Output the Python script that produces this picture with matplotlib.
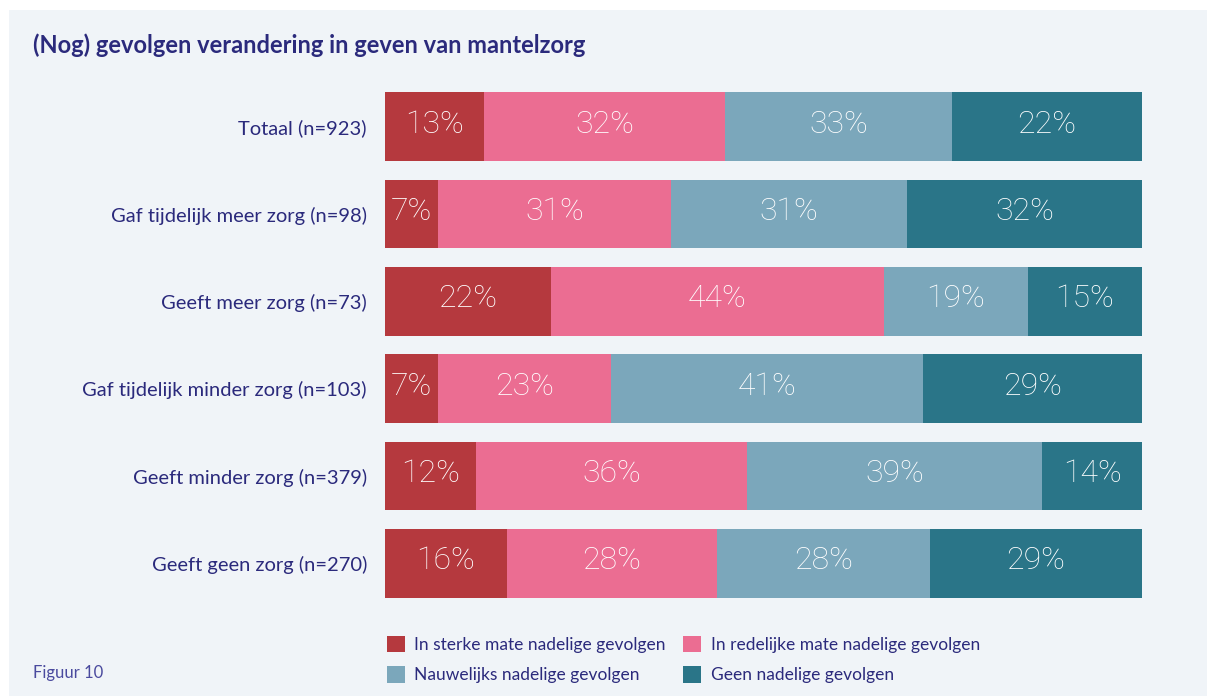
import matplotlib.pyplot as plt
from matplotlib.patches import Rectangle

categories = ["Totaal (n=923)", "Gaf tijdelijk meer zorg (n=98)", "Geeft meer zorg (n=73)",
              "Gaf tijdelijk minder zorg (n=103)", "Geeft minder zorg (n=379)",
              "Geeft geen zorg (n=270)"]
series_names = ["In sterke mate nadelige gevolgen", "In redelijke mate nadelige gevolgen",
                "Nauwelijks nadelige gevolgen", "Geen nadelige gevolgen"]
# printed labels
sterk = [13, 7, 22, 7, 12, 16]
redelijk = [32, 31, 44, 23, 36, 28]
nauwelijks = [33, 31, 19, 41, 39, 28]
geen = [22, 32, 15, 29, 14, 29]
# bar lengths as drawn in the original
sterk_w = [13.1, 7.0, 21.9, 7.0, 12.0, 16.1]
redelijk_w = [31.8, 30.8, 44.0, 22.9, 35.8, 27.7]
nauwelijks_w = [30.0, 31.2, 19.0, 41.2, 39.0, 28.1]
geen_w = [25.1, 31.0, 15.1, 28.9, 13.2, 28.0]
colors = ["#b5393e", "#eb6d92", "#7ba7bb", "#2a7588"]

navy = "#2b2a7c"
panel = "#f0f4f8"

fig = plt.figure(figsize=(12.07, 6.96), dpi=100, facecolor="white")
fig.patches.append(Rectangle((9 / 1207, 0), 1 - 9 / 1207, 1 - 10 / 696,
                             transform=fig.transFigure, facecolor=panel,
                             edgecolor="none", zorder=-10))

ax = fig.add_axes([385 / 1207, 1 - 607 / 696, (1142 - 385) / 1207, (607 - 83) / 696])
ax.patch.set_alpha(0)

labels_all = [sterk, redelijk, nauwelijks, geen]
widths_all = [sterk_w, redelijk_w, nauwelijks_w, geen_w]
totals = [sum(w[i] for w in widths_all) for i in range(len(categories))]
y = list(range(len(categories)))
left = [0.0] * len(categories)
containers = []
for vals, ws, col, name in zip(labels_all, widths_all, colors, series_names):
    widths = [w / t * 100 for w, t in zip(ws, totals)]
    bc = ax.barh(y, widths, left=left, height=0.79, color=col, label=name)
    containers.append(bc)
    for i, (v, w) in enumerate(zip(vals, widths)):
        ax.text(left[i] + w / 2, i - 0.03, f"{v}%", ha="center", va="center",
                color="white", fontsize=23, family=["Roboto", "Lato"],
                fontweight="light")
    left = [l + w for l, w in zip(left, widths)]

ax.set_xlim(0, 100)
ax.set_ylim(len(categories) - 0.5, -0.5)
ax.set_yticks(y)
ax.set_yticklabels(categories, fontsize=14.5, color=navy, family="Lato")
ax.tick_params(axis="y", length=0, pad=13)
ax.set_xticks([])
for s in ax.spines.values():
    s.set_visible(False)

fig.text(33 / 1207, 1 - 45 / 696, "(Nog) gevolgen verandering in geven van mantelzorg",
         fontsize=17, fontweight="bold", color=navy, family="Lato", va="center")
fig.text(33 / 1207, 1 - 673 / 696, "Figuur 10", fontsize=12, color="#4a4a9e",
         family="Lato", va="center")

handles = [containers[0], containers[2], containers[1], containers[3]]
labels = [series_names[0], series_names[2], series_names[1], series_names[3]]
leg = fig.legend(handles, labels, ncol=2, loc="upper left",
                 bbox_to_anchor=(371 / 1207, 1 - 620 / 696), frameon=False,
                 handlelength=1.05, handleheight=1.05, handletextpad=0.55,
                 columnspacing=1.0, labelspacing=0.8,
                 prop={"family": "Lato", "size": 12.5})
for t in leg.get_texts():
    t.set_color(navy)

fig.savefig("out.png", dpi=100, facecolor="white")
